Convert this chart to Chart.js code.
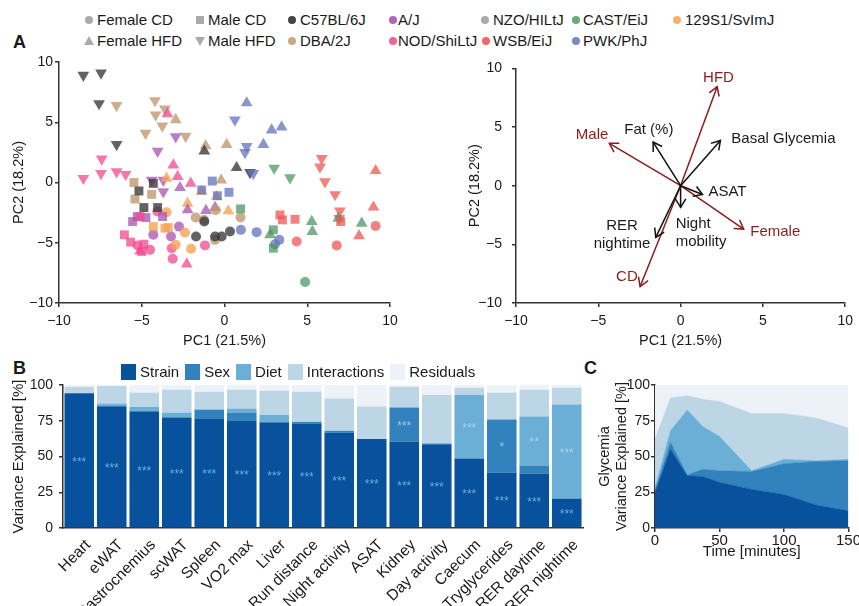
<!DOCTYPE html>
<html>
<head>
<meta charset="utf-8">
<script src="https://cdn.jsdelivr.net/npm/chart.js@4.4.0/dist/chart.umd.min.js"></script>
<style>
  body { margin: 0; background: #fff; font-family: "Liberation Sans", Arial, sans-serif; color: #1a1a1a; }
  #page { position: relative; width: 859px; height: 606px; overflow: hidden; }
  .cv { position: absolute; }
  .tag { position: absolute; font-weight: bold; font-size: 18px; line-height: 20px; }
  .lg { position: absolute; font-size: 15px; line-height: 18px; white-space: nowrap; }
  .dot { position: absolute; width: 8px; height: 8px; border-radius: 50%; }
  .sq { position: absolute; width: 8px; height: 8px; background: #aaa; }
  .up { position: absolute; width: 0; height: 0; border-left: 5px solid transparent; border-right: 5px solid transparent; border-bottom: 9px solid #aaa; }
  .dn { position: absolute; width: 0; height: 0; border-left: 5px solid transparent; border-right: 5px solid transparent; border-top: 9px solid #aaa; }
  #barLegend { position: absolute; left: 121px; top: 364px; display: flex; font-size: 15px; line-height: 16px; white-space: nowrap; }
  #barLegend span.it { display: flex; align-items: center; margin-right: 6px; }
  #barLegend i { display: inline-block; width: 15px; height: 16px; margin-right: 4px; }
</style>
</head>
<body>
<div id="page">
  <div class="tag" style="left:13px;top:32px">A</div>
  <div class="tag" style="left:13px;top:358px">B</div>
  <div class="tag" style="left:584px;top:358px">C</div>

  <!-- legend for panel A -->
  <div class="dot" style="left:85px;top:16px;background:#aaa"></div><div class="lg" style="left:97px;top:11px">Female CD</div>
  <div class="sq" style="left:196px;top:16px"></div><div class="lg" style="left:208px;top:11px">Male CD</div>
  <div class="dot" style="left:288px;top:16px;background:#444"></div><div class="lg" style="left:300px;top:11px">C57BL/6J</div>
  <div class="dot" style="left:389px;top:16px;background:#b066b8"></div><div class="lg" style="left:398px;top:11px">A/J</div>
  <div class="dot" style="left:481px;top:16px;background:#aaa"></div><div class="lg" style="left:493px;top:11px">NZO/HILtJ</div>
  <div class="dot" style="left:572px;top:16px;background:#6aaa7e"></div><div class="lg" style="left:583px;top:11px">CAST/EiJ</div>
  <div class="dot" style="left:673px;top:16px;background:#f6b06a"></div><div class="lg" style="left:685px;top:11px">129S1/SvImJ</div>

  <div class="up" style="left:84px;top:36px"></div><div class="lg" style="left:97px;top:32px">Female HFD</div>
  <div class="dn" style="left:195px;top:37px"></div><div class="lg" style="left:208px;top:32px">Male HFD</div>
  <div class="dot" style="left:288px;top:37px;background:#caa886"></div><div class="lg" style="left:300px;top:32px">DBA/2J</div>
  <div class="dot" style="left:389px;top:37px;background:#f5609e"></div><div class="lg" style="left:398px;top:32px">NOD/ShiLtJ</div>
  <div class="dot" style="left:482px;top:37px;background:#f06868"></div><div class="lg" style="left:493px;top:32px">WSB/EiJ</div>
  <div class="dot" style="left:572px;top:37px;background:#7b88c6"></div><div class="lg" style="left:583px;top:32px">PWK/PhJ</div>

  <div class="cv" style="left:0;top:50px;width:430px;height:310px"><canvas id="pcaScores"></canvas></div>
  <div class="cv" style="left:430px;top:50px;width:429px;height:310px"><canvas id="pcaLoadings"></canvas></div>
  <div class="cv" style="left:0;top:355px;width:600px;height:251px"><canvas id="traitVariance"></canvas></div>
  <div class="cv" style="left:560px;top:355px;width:301px;height:251px"><canvas id="glycemiaVariance"></canvas></div>
  <div id="barLegend"></div>
</div>

<script>
// ---- panel A, scores: [strain, PC1, PC2]
const femaleCD = [
  ['DBA', -1.74, -2.91], ['DBA', -1.24, -3.1], ['DBA', -0.53, -2.28], ['DBA', -0.57, -4.76], ['DBA', 0.97, -2.91],
  ['B6', -1.72, -4.48], ['B6', -1.22, -3.24], ['B6', -0.57, -4.48], ['B6', -0.17, -4.48], ['B6', 0.33, -4.07],
  ['AJ', -4.3, -4.34], ['AJ', -2.75, -3.66], ['AJ', -3.23, -4.48],
  ['NOD', -4.06, -2.41], ['NOD', -5.25, -5.22], ['NOD', -4.5, -5.59], ['NOD', -3.19, -5.45], ['NOD', -3.13, -6.33], ['NOD', -1.18, -5.22],
  ['129', -2.39, -4.15], ['129', -2.95, -5.17], ['129', -2.02, -5.5], ['129', -3.5, -2.47],
  ['PWK', 0.99, -3.93], ['PWK', 1.94, -4.12], ['PWK', 3.31, -4.76], ['PWK', 3.05, -5.12],
  ['CAST', 4.87, -8.26],
  ['WSB', 4.36, -4.9], ['WSB', 6.78, -5.22], ['WSB', 9.13, -3.6]
];
const maleCD = [
  ['DBA', -5.47, 0], ['DBA', -5.41, -1.37], ['DBA', -4.4, -0.98],
  ['B6', -5.17, -0.7], ['B6', -4.87, -2.08], ['B6', -4.3, -0.07], ['B6', -4.04, -2.08],
  ['AJ', -5.55, -3.24], ['AJ', -5.27, -2.83], ['AJ', -4.75, -2.91], ['AJ', -3.74, -2.83],
  ['NOD', -6.05, -4.34], ['NOD', -5.67, -4.95], ['NOD', -4.87, -5.12], ['NOD', -5.0, -5.72], ['NOD', -5.1, -2.83],
  ['129', -4.3, -3.66], ['129', -3.4, -3.74], ['129', -3.6, -3.79],
  ['PWK', -0.74, 0.12], ['PWK', -1.38, -0.62], ['PWK', -0.43, -1.1], ['PWK', 0.27, -0.81],
  ['CAST', 0.97, -2.19], ['CAST', 2.95, -3.93], ['CAST', 2.95, -5.45],
  ['WSB', 3.35, -2.69], ['WSB', 3.5, -3.1], ['WSB', 4.26, -3.05], ['WSB', 7.02, -3.24]
];
const femaleHFD = [
  ['PWK', 1.34, 6.6], ['PWK', 2.85, 4.35], ['PWK', 3.45, 4.6], ['PWK', 2.35, 3.15],
  ['DBA', -2.95, 5.2], ['DBA', -1.14, 3.05], ['DBA', 0.13, 3.15], ['DBA', -0.2, 0.2],
  ['NOD', -3.45, 5.7], ['NOD', -3.09, 1.45], ['NOD', -2.83, 0.5], ['NOD', -2.04, -0.07], ['NOD', -2.28, -6.77], ['NOD', -5.1, -5.7],
  ['B6', -1.22, 2.6], ['B6', 0.73, 1.23],
  ['129', -2.23, -1.72], ['129', -0.47, -1.17], ['129', 0.23, -2.36], ['129', -1.38, -0.76], ['129', -3.5, 0.35],
  ['AJ', -2.69, -0.43], ['AJ', -2.23, -2.28], ['AJ', -1.12, -2.33], ['AJ', -0.57, -2.08],
  ['CAST', 5.27, -3.24], ['CAST', 5.31, -4.07], ['CAST', 6.88, -2.97], ['CAST', 8.29, -3.38], ['CAST', 2.75, -4.34],
  ['WSB', 9.13, 0.98], ['WSB', 9.0, -2.05], ['WSB', 8.13, -4.43]
];
const maleHFD = [
  ['B6', -8.53, 8.9], ['B6', -7.46, 9.1], ['B6', -7.58, 6.55], ['B6', -6.52, 3.16], ['B6', 1.54, 0.84],
  ['DBA', -6.52, 6.4], ['DBA', -4.2, 6.8], ['DBA', -4.16, 5.6], ['DBA', -3.76, 4.7], ['DBA', -4.77, 4.1], ['DBA', -2.35, 3.85], ['DBA', -3.6, 6.1],
  ['NOD', -8.53, 0.35], ['NOD', -7.42, 1.95], ['NOD', -7.46, 0.76], ['NOD', -6.52, 0.9], ['NOD', -5.97, 0.68],
  ['AJ', -2.95, 3.8], ['AJ', -4.04, 2.6], ['AJ', -3.7, -0.76], ['AJ', -4.4, 0.2], ['AJ', -3.7, 0.2],
  ['PWK', 0.63, 5.2], ['PWK', 1.34, 3.0], ['PWK', 1.24, 2.5], ['PWK', 1.74, 0.76],
  ['CAST', 3.0, 1.2], ['CAST', 3.96, 0.4],
  ['WSB', 5.87, 2.0], ['WSB', 5.77, 1.3], ['WSB', 6.07, 0.07], ['WSB', 6.68, -1.0], ['WSB', 6.97, -2.36], ['WSB', 6.93, -2.97]
];
const strainColors = {
  B6: 'rgba(60,60,60,0.8)', AJ: 'rgba(166,82,176,0.75)', NZO: 'rgba(170,170,170,0.8)',
  CAST: 'rgba(78,150,100,0.75)', '129': 'rgba(246,164,84,0.8)', DBA: 'rgba(192,152,112,0.8)',
  NOD: 'rgba(242,72,142,0.75)', WSB: 'rgba(240,86,86,0.75)', PWK: 'rgba(98,114,188,0.75)'
};

// ---- panel A, loadings
const loadNames = ['Fat (%)', 'Basal Glycemia', 'ASAT', 'Night\nmobility', 'RER\nnightime', 'HFD', 'CD', 'Male', 'Female'];
const loadPC1 = [-1.67, 2.42, 1.33, 0.0, -1.51, 2.22, -2.46, -4.33, 3.83];
const loadPC2 = [3.72, 3.86, -0.75, -1.85, -4.41, 8.44, -8.6, 3.61, -3.7];
const loadLabelPC1 = [-1.93, 3.08, 1.69, -0.3, -3.56, 2.3, -3.26, -5.38, 4.23];
const loadLabelPC2 = [4.8, 4.0, -0.5, -3.25, -3.4, 9.2, -7.8, 4.3, -3.9];
const loadIsDesign = [false, false, false, false, false, true, true, true, true];

// ---- panel B
const traits = ['Heart', 'eWAT', 'Gastrocnemius', 'scWAT', 'Spleen', 'VO2 max', 'Liver', 'Run distance',
  'Night activity', 'ASAT', 'Kidney', 'Day activity', 'Caecum', 'Tryglycerides', 'RER daytime', 'RER nightime'];
const strainVar = [93.7, 85.1, 81.4, 77.2, 76.5, 75.1, 73.7, 73.0, 66.5, 62.3, 60.5, 58.6, 48.6, 38.8, 38.1, 20.5];
const sexVar = [0.7, 0.5, 0.5, 0.2, 6.3, 5.6, 0.7, 1.2, 1.4, 0, 23.7, 0.5, 0, 37.0, 5.6, 0];
const dietVar = [0, 1.4, 2.8, 3.3, 0, 2.8, 4.7, 0, 0, 0, 0, 0, 44.4, 0, 34.2, 65.8];
const interVar = [4.2, 12.3, 10.0, 16.0, 12.5, 13.2, 16.9, 21.1, 22.6, 22.6, 14.6, 33.9, 5.1, 18.9, 18.8, 11.8];
const residVar = [1.4, 0.7, 5.3, 3.3, 4.7, 3.3, 4.0, 4.7, 9.5, 15.1, 1.2, 7.0, 1.9, 5.3, 3.3, 1.9];
const strainSig = ['***', '***', '***', '***', '***', '***', '***', '***', '***', '***', '***', '***', '***', '***', '***', '***'];
const sexSig = ['', '', '', '', '', '', '', '', '', '', '***', '', '', '*', '', ''];
const dietSig = ['', '', '', '', '', '', '', '', '', '', '', '', '***', '', '**', '***'];

// ---- panel C
const glycTime = [0, 12, 25, 37, 50, 75, 100, 125, 150];
const glycStrain = [25, 55, 36.5, 36, 32, 27, 23.5, 16, 12];
const glycSex = [1, 5, 0.5, 5, 8, 12.5, 21.5, 30.5, 35];
const glycDiet = [2, 8, 45.5, 30, 24, 0.5, 3, 0.5, 1];
const glycInter = [34, 23, 10, 19, 24.5, 40, 32, 30, 22];
const glycResid = [38, 9, 7.5, 10, 11.5, 20, 20, 23, 30];

const blues = ['#08519c', '#3182bd', '#6baed6', '#bcd6e6', '#edf2f9'];
const darkRed = '#8b1c1c';
const ink = '#1a1a1a';

Chart.defaults.font.family = '"Liberation Sans", Arial, sans-serif';
Chart.defaults.font.size = 14;
Chart.defaults.color = ink;
Chart.defaults.animation = false;
Chart.defaults.events = [];
Chart.defaults.plugins.legend.display = false;
Chart.defaults.plugins.tooltip.enabled = false;

const minus = v => String(v).replace('-', '\u2212');

function linAxis(min, max, step, title, o) {
  return {
    type: 'linear', min: min, max: max,
    border: { color: '#333', width: 1.5 },
    grid: { drawOnChartArea: false, color: '#333', lineWidth: 1.5, tickLength: 4 },
    ticks: { stepSize: step, padding: o.tickPad, callback: minus, font: { size: o.tickSize || 14 } },
    title: { display: !!title, text: title, font: { size: o.titleSize || 14.5 }, padding: o.titlePad },
    afterFit: o.fit
  };
}

function scoreSet(points, style, rot, radius) {
  return {
    data: points.map(p => ({ x: p[1], y: p[2] })),
    backgroundColor: points.map(p => strainColors[p[0]]),
    borderWidth: 0,
    pointStyle: style,
    pointRotation: rot,
    pointRadius: radius
  };
}

new Chart(document.getElementById('pcaScores'), {
  type: 'scatter',
  data: {
    datasets: [
      scoreSet(maleCD, 'rect', 0, 6.3),
      scoreSet(femaleCD, 'circle', 0, 5),
      scoreSet(femaleHFD, 'triangle', 0, 6.8),
      scoreSet(maleHFD, 'triangle', 180, 6.8)
    ]
  },
  options: {
    responsive: true, maintainAspectRatio: false,
    layout: { padding: { left: 0, top: 12, right: 40, bottom: 0 } },
    scales: {
      x: linAxis(-10, 10, 5, 'PC1 (21.5%)', { tickPad: 6, titlePad: { top: 0, bottom: 10 }, fit: s => { s.height = 57; } }),
      y: linAxis(-10, 10, 5, 'PC2 (18.2%)', { tickPad: 2, titlePad: { top: 10, bottom: 0 }, fit: s => { s.width = 59; } })
    }
  }
});

// arrows + labels for the loadings plot
const arrowPlugin = {
  id: 'arrows',
  afterDatasetsDraw(chart) {
    const ctx = chart.ctx;
    const xs = chart.scales.x, ys = chart.scales.y;
    chart.data.datasets.forEach((ds, i) => {
      const pts = chart.getDatasetMeta(i).data;
      const a = pts[0], b = pts[1];
      const ang = Math.atan2(b.y - a.y, b.x - a.x);
      ctx.save();
      ctx.strokeStyle = ds.borderColor;
      ctx.lineWidth = 1.5;
      ctx.beginPath();
      ctx.moveTo(b.x - 10 * Math.cos(ang - 0.55), b.y - 10 * Math.sin(ang - 0.55));
      ctx.lineTo(b.x, b.y);
      ctx.lineTo(b.x - 10 * Math.cos(ang + 0.55), b.y - 10 * Math.sin(ang + 0.55));
      ctx.stroke();
      // label
      const lines = loadNames[i].split('\n');
      const lx = xs.getPixelForValue(loadLabelPC1[i]);
      const ly = ys.getPixelForValue(loadLabelPC2[i]);
      ctx.fillStyle = loadIsDesign[i] ? darkRed : ink;
      ctx.font = '15px "Liberation Sans", Arial, sans-serif';
      ctx.textBaseline = 'middle';
      const leftAligned = ['Basal Glycemia', 'ASAT', 'Female', 'Night\nmobility'].includes(loadNames[i]);
      ctx.textAlign = leftAligned ? 'left' : 'center';
      lines.forEach((t, k) => ctx.fillText(t, lx, ly + k * 18));
      ctx.restore();
    });
  }
};

new Chart(document.getElementById('pcaLoadings'), {
  type: 'scatter',
  data: {
    datasets: loadNames.map((n, i) => ({
      data: [{ x: 0, y: 0 }, { x: loadPC1[i], y: loadPC2[i] }],
      showLine: true,
      borderColor: loadIsDesign[i] ? darkRed : '#111',
      borderWidth: 1.5,
      pointRadius: 0
    }))
  },
  options: {
    responsive: true, maintainAspectRatio: false,
    layout: { padding: { left: 36, top: 12, right: 12, bottom: 0 } },
    scales: {
      x: linAxis(-10, 10, 5, 'PC1 (21.5%)', { tickPad: 6, titlePad: { top: 0, bottom: 10 }, fit: s => { s.height = 57; } }),
      y: linAxis(-10, 10, 5, 'PC2 (18.2%)', { tickPad: 10, titlePad: { top: 0, bottom: 0 }, fit: s => { s.width = 50; } })
    }
  },
  plugins: [arrowPlugin]
});

// stars inside bars
const starPlugin = {
  id: 'stars',
  afterDatasetsDraw(chart) {
    const ctx = chart.ctx;
    const sigs = [strainSig, sexSig, dietSig];
    const colors = ['#6aaedb', '#9ecae1', '#a9d0e8'];
    sigs.forEach((sig, d) => {
      const bars = chart.getDatasetMeta(d).data;
      ctx.save();
      ctx.font = '12px "Liberation Sans", Arial, sans-serif';
      ctx.textAlign = 'center';
      ctx.textBaseline = 'middle';
      ctx.fillStyle = colors[d];
      bars.forEach((bar, i) => {
        if (!sig[i]) return;
        ctx.fillText(sig[i], bar.x, (bar.y + bar.base) / 2 + 2);
      });
      ctx.restore();
    });
  }
};

const barSets = [['Strain', strainVar], ['Sex', sexVar], ['Diet', dietVar], ['Interactions', interVar], ['Residuals', residVar]];

// legend for panel B, built from the same series names and colours
const barLegend = document.getElementById('barLegend');
barSets.forEach((s, i) => {
  const it = document.createElement('span');
  it.className = 'it';
  const sw = document.createElement('i');
  sw.style.background = blues[i];
  it.appendChild(sw);
  it.appendChild(document.createTextNode(s[0]));
  barLegend.appendChild(it);
});

new Chart(document.getElementById('traitVariance'), {
  type: 'bar',
  data: {
    labels: traits,
    datasets: barSets.map((s, i) => ({
      label: s[0], data: s[1], backgroundColor: blues[i], borderWidth: 0,
      barPercentage: 1, categoryPercentage: 0.91
    }))
  },
  options: {
    responsive: true, maintainAspectRatio: false,
    layout: { padding: { left: 0, top: 30, right: 17, bottom: 0 } },
    scales: {
      x: {
        stacked: true,
        border: { color: '#333', width: 1.5 },
        grid: { display: false },
        ticks: { minRotation: 45, maxRotation: 45, padding: 0, labelOffset: 9, font: { size: 15.5 }, autoSkip: false },
        afterFit: s => { s.height = 78; }
      },
      y: Object.assign(linAxis(0, 100, 25, 'Variance Explained [%]', {
        tickPad: 6, tickSize: 14, titleSize: 15, titlePad: { top: 10, bottom: 0 }, fit: s => { s.width = 63; }
      }), { stacked: true })
    }
  },
  plugins: [starPlugin]
});

const areaSets = [glycStrain, glycSex, glycDiet, glycInter, glycResid];

new Chart(document.getElementById('glycemiaVariance'), {
  type: 'line',
  data: {
    datasets: areaSets.map((vals, i) => ({
      data: glycTime.map((t, k) => ({ x: t, y: vals[k] })),
      backgroundColor: blues[i],
      borderColor: blues[i],
      borderWidth: 0.5,
      pointRadius: 0,
      tension: 0,
      fill: i === 0 ? 'origin' : '-1'
    }))
  },
  options: {
    responsive: true, maintainAspectRatio: false,
    layout: { padding: { left: 30, top: 30, right: 12, bottom: 0 } },
    scales: {
      x: linAxis(0, 150, 50, 'Time [minutes]', {
        tickPad: 0, tickSize: 15, titleSize: 15, titlePad: { top: 0, bottom: 45 }, fit: s => { s.height = 78; }
      }),
      y: Object.assign(linAxis(0, 100, 25, ['Glycemia', 'Variance Explained [%]'], {
        tickPad: 1, tickSize: 14, titleSize: 14.5, titlePad: { top: 6, bottom: 0 }, fit: s => { s.width = 65; }
      }), { stacked: true })
    }
  }
});
</script>
</body>
</html>
